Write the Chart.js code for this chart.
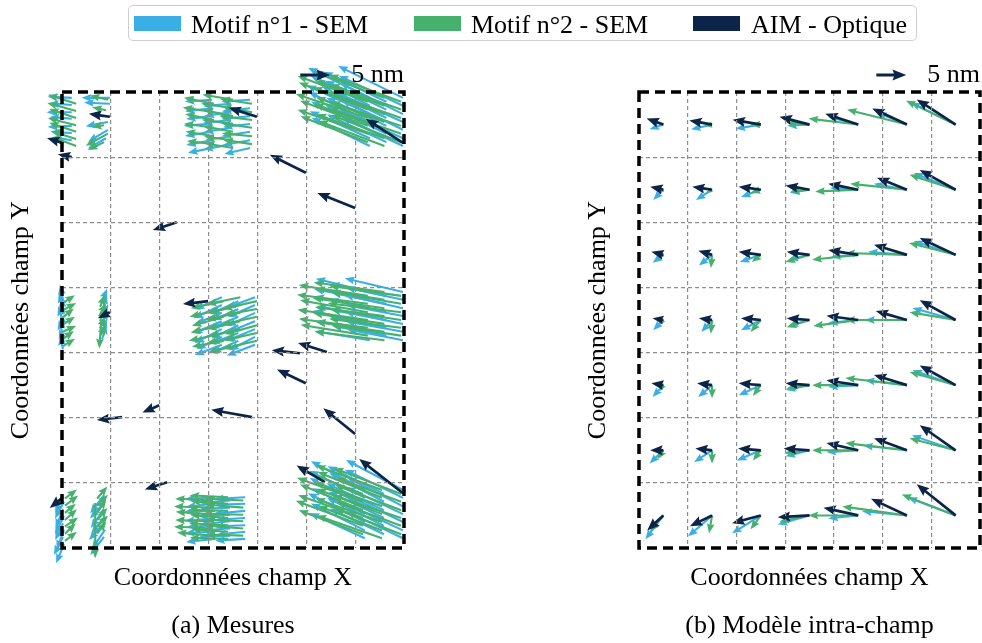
<!DOCTYPE html>
<html lang="fr">
<head>
<meta charset="utf-8">
<script src="https://cdn.jsdelivr.net/npm/chart.js@4.4.0/dist/chart.umd.min.js"></script>
<style>
  body { margin: 0; background: #fff; }
  #page { position: relative; width: 982px; height: 643px; overflow: hidden; font-family: "Liberation Serif", "Times New Roman", serif; }
  canvas { position: absolute; top: 0; }
  #legend { position: absolute; left: 128px; top: 5px; width: 787px; height: 34px; border: 1.5px solid #cfcfcf; border-radius: 5px; background: #fff; }
  .sw { position: absolute; top: 10px; width: 47px; height: 15px; }
  .lb { position: absolute; top: 1px; line-height: 35px; font-size: 26px; color: #000; white-space: nowrap; }
</style>
</head>
<body>
<div id="page">
  <canvas id="left" width="491" height="643" style="left:0"></canvas>
  <canvas id="right" width="491" height="643" style="left:491px"></canvas>
  <div id="legend">
    <span class="sw" style="left:5px;background:#3aafe6"></span><span class="lb" style="left:62px">Motif n°1 - SEM</span>
    <span class="sw" style="left:285px;background:#46b16c"></span><span class="lb" style="left:342px">Motif n°2 - SEM</span>
    <span class="sw" style="left:564px;background:#0b2447"></span><span class="lb" style="left:622px">AIM - Optique</span>
  </div>
</div>
<script>
"use strict";

// field is a 7 x 7 grid of cells, vectors are in nm (v positive = up)
const NM_TO_X = 0.1228;
const KEY_NM = 5;
const SERIF = '"Liberation Serif", "Times New Roman", serif';
const COLORS = { sem1: "#3aafe6", sem2: "#46b16c", aim: "#0b2447" };

// ---- (b) model: arrows at cell centres ----
const modelX = [0.5, 1.5, 2.5, 3.5, 4.5, 5.5, 6.5];
const modelY = [0.5, 1.5, 2.5, 3.5, 4.5, 5.5, 6.5];

const modelSem1 = [
    [[-2.3, -0.8], [-3.5, -0.8], [-4.2, -0.7], [-3.7, -0.2], [-5.0, 1.3], [-5.0, 2.0], [-7.5, 3.7]],
    [[-1.7, -1.7], [-2.7, -1.7], [-3.3, -1.2], [-3.3, -0.5], [-4.7, 0.3], [-5.5, 1.0], [-7.0, 2.8]],
    [[-1.8, -1.3], [-2.2, -1.8], [-3.5, -1.2], [-3.5, -0.8], [-4.5, -0.3], [-6.5, 0.5], [-7.0, 2.3]],
    [[-1.7, -1.7], [-1.8, -2.0], [-3.3, -1.7], [-3.5, -1.0], [-5.0, -0.5], [-7.0, 0.0], [-7.2, 2.0]],
    [[-1.8, -2.0], [-2.3, -2.0], [-3.7, -1.7], [-4.0, -0.8], [-5.0, -0.3], [-7.0, 0.8], [-7.2, 2.5]],
    [[-2.3, -2.2], [-3.0, -2.0], [-4.0, -1.7], [-4.0, -1.0], [-5.3, -0.3], [-7.3, 0.8], [-7.3, 2.5]],
    [[-3.0, -4.0], [-4.0, -3.5], [-4.8, -3.0], [-5.3, -1.5], [-5.0, -0.5], [-7.5, 0.7], [-8.0, 3.0]]
];
const modelSem2 = [
    [[-0.8, 0.0], [-1.3, -0.2], [-1.7, 0.0], [-3.8, 0.3], [-8.3, 1.0], [-10.0, 2.5], [-8.3, 4.0]],
    [[-0.8, -0.3], [-1.0, -0.5], [-1.7, -0.5], [-3.2, -0.3], [-7.2, -0.3], [-9.5, 1.0], [-7.7, 2.5]],
    [[-0.5, -0.5], [-0.2, -2.2], [-1.5, -1.2], [-4.0, -1.2], [-7.7, -0.8], [-10.3, 0.3], [-7.8, 2.0]],
    [[-0.5, -0.8], [-0.2, -2.3], [-1.7, -2.0], [-3.8, -1.2], [-7.5, -1.0], [-10.3, 0.0], [-7.7, 1.3]],
    [[-0.5, -1.0], [0.0, -2.2], [-1.3, -1.8], [-3.8, -0.5], [-7.7, 0.0], [-10.3, 1.2], [-7.7, 2.2]],
    [[-1.0, -1.5], [0.0, -2.2], [-1.3, -1.7], [-4.2, -0.5], [-7.7, 0.0], [-10.3, 1.2], [-7.7, 2.0]],
    [[-2.2, -2.7], [-0.5, -3.0], [-1.7, -2.3], [-5.0, -1.0], [-8.3, 0.0], [-10.8, 1.5], [-9.0, 3.5]]
];
const modelAim = [
    [[-2.8, 1.0], [-3.8, 0.7], [-4.7, 0.8], [-5.0, 1.3], [-5.5, 1.8], [-5.8, 2.7], [-6.5, 4.2]],
    [[-2.2, 0.5], [-3.3, 0.5], [-3.7, 0.5], [-4.0, 0.7], [-5.0, 1.0], [-5.0, 2.0], [-6.0, 3.3]],
    [[-2.0, 0.5], [-2.3, 0.7], [-3.7, 0.5], [-3.8, 0.5], [-5.0, 0.8], [-5.5, 1.7], [-6.0, 2.8]],
    [[-1.8, 0.3], [-2.2, 0.3], [-3.3, 0.3], [-3.8, 0.3], [-5.3, 0.7], [-5.2, 1.5], [-6.0, 3.3]],
    [[-2.0, 0.3], [-2.5, 0.3], [-3.7, 0.3], [-4.0, 0.3], [-5.3, 0.8], [-5.5, 1.7], [-6.0, 3.3]],
    [[-2.2, 0.0], [-2.8, 0.3], [-3.8, 0.3], [-4.3, 0.3], [-5.3, 1.2], [-5.5, 2.0], [-6.0, 4.2]],
    [[-2.7, -2.5], [-3.7, -1.8], [-4.8, -1.3], [-5.3, -0.3], [-5.8, 1.3], [-6.0, 2.8], [-6.5, 5.2]]
];

// ---- (a) measurements: [x, y, u, v] ----
const mesSem1 = [
    // top row fields
    [0.20, 0.09, -4.0, 0.2], [0.20, 0.20, -3.8, 0.3], [0.20, 0.31, -4.2, 0.0], [0.20, 0.41, -3.7, 0.3],
    [0.20, 0.52, -4.0, -0.2], [0.20, 0.63, -3.5, 0.2], [0.20, 0.74, -3.3, 0.5],
    [0.98, 0.09, -4.7, 0.0], [0.98, 0.18, -4.3, 0.2], [0.94, 0.46, -3.7, -0.7], [0.94, 0.58, -3.3, -2.0], [0.90, 0.71, -3.0, -1.7],
    [3.07, 0.12, -4.5, -0.3], [3.07, 0.25, -4.5, -0.5], [3.07, 0.37, -4.3, -0.5], [3.07, 0.49, -4.7, -0.3],
    [3.07, 0.61, -4.5, -0.7], [3.07, 0.74, -4.3, -0.8], [3.07, 0.86, -4.0, -0.8],
    [3.46, 0.18, -4.6, -0.4], [3.46, 0.31, -4.4, -0.6], [3.46, 0.43, -4.7, -0.5], [3.46, 0.55, -4.5, -0.7],
    [3.46, 0.68, -4.3, -0.6], [3.46, 0.80, -4.6, -0.9],
    [3.85, 0.12, -4.8, -0.3], [3.85, 0.25, -4.7, -0.5], [3.85, 0.37, -4.8, -0.5], [3.85, 0.49, -4.5, -0.5],
    [3.85, 0.61, -4.7, -0.7], [3.85, 0.74, -4.5, -0.8], [3.85, 0.86, -4.3, -1.0],
    [6.30, 0.09, -10.3, 5.0], [6.30, 0.21, -10.0, 5.2], [6.30, 0.34, -10.5, 4.8], [6.30, 0.46, -10.2, 5.0],
    [6.30, 0.58, -9.8, 4.7], [6.30, 0.71, -10.0, 4.5], [6.30, 0.83, -9.7, 4.7],
    [6.64, 0.15, -10.5, 5.0], [6.64, 0.27, -10.2, 4.8], [6.64, 0.40, -10.7, 5.2], [6.64, 0.52, -10.0, 4.7],
    [6.64, 0.64, -10.4, 5.0], [6.64, 0.77, -9.9, 4.6],
    [6.98, 0.09, -10.8, 5.3], [6.98, 0.21, -10.7, 5.0], [6.98, 0.34, -10.5, 5.2], [6.98, 0.46, -10.8, 4.8],
    [6.98, 0.58, -10.3, 5.0], [6.98, 0.71, -10.5, 4.7], [6.98, 0.83, -10.2, 4.8],
    // middle row fields
    [0.02, 3.19, -0.5, 2.5], [0.02, 3.30, -0.7, 2.3], [0.04, 3.41, -0.5, 2.7], [0.02, 3.52, -0.8, 2.5],
    [0.04, 3.62, -0.5, 2.3], [0.02, 3.73, -0.7, 2.5], [0.04, 3.84, -0.8, 2.2], [0.02, 3.95, -0.5, 2.3],
    [0.80, 3.25, 1.0, 2.5], [0.82, 3.36, 0.8, 2.7], [0.80, 3.47, 1.2, 2.3], [0.82, 3.58, 0.8, 2.5],
    [0.80, 3.69, 1.0, 2.3], [0.82, 3.80, 0.7, 2.5],
    [3.27, 3.15, -4.5, -2.0], [3.27, 3.27, -4.7, -2.2], [3.27, 3.39, -4.3, -1.8], [3.27, 3.52, -4.8, -2.0],
    [3.27, 3.64, -4.5, -2.3], [3.27, 3.76, -4.2, -2.0], [3.27, 3.88, -4.5, -1.7],
    [3.61, 3.21, -4.6, -2.1], [3.61, 3.33, -4.4, -1.9], [3.61, 3.45, -4.8, -2.0], [3.61, 3.58, -4.5, -2.2],
    [3.61, 3.70, -4.7, -1.8], [3.61, 3.82, -4.4, -2.0],
    [3.95, 3.15, -4.8, -1.8], [3.95, 3.27, -4.5, -2.0], [3.95, 3.39, -4.7, -2.2], [3.95, 3.52, -4.5, -1.8],
    [3.95, 3.64, -4.8, -2.0], [3.95, 3.76, -4.3, -2.2], [3.95, 3.88, -4.7, -1.8],
    [6.30, 3.07, -9.0, 2.2], [6.30, 3.19, -9.3, 1.8], [6.30, 3.32, -9.2, 2.0], [6.30, 3.44, -8.8, 1.7],
    [6.30, 3.56, -9.5, 2.2], [6.30, 3.68, -9.0, 1.8], [6.30, 3.81, -9.2, 1.5],
    [6.64, 3.13, -9.4, 2.0], [6.64, 3.25, -9.1, 1.8], [6.64, 3.38, -9.6, 2.1], [6.64, 3.50, -9.2, 1.7],
    [6.64, 3.62, -9.5, 1.9], [6.64, 3.74, -9.0, 1.6],
    [6.98, 3.07, -9.7, 2.3], [6.98, 3.19, -9.5, 2.0], [6.98, 3.32, -9.8, 2.2], [6.98, 3.44, -9.3, 1.8],
    [6.98, 3.56, -9.7, 2.0], [6.98, 3.68, -9.5, 1.7], [6.98, 3.81, -9.3, 1.8],
    // bottom row fields
    [0.02, 6.19, -1.3, -3.0], [0.04, 6.29, -1.5, -2.8], [0.02, 6.40, -1.2, -3.2], [0.04, 6.51, -1.5, -3.0],
    [0.02, 6.62, -1.3, -2.8], [0.04, 6.72, -1.2, -3.3], [0.02, 6.83, -1.5, -3.0], [0.04, 6.94, -1.3, -3.2],
    [0.86, 6.19, -2.3, -3.0], [0.88, 6.29, -2.5, -2.8], [0.86, 6.40, -2.2, -3.2], [0.88, 6.51, -2.3, -3.0],
    [0.86, 6.62, -2.5, -2.8], [0.88, 6.72, -2.2, -3.2], [0.86, 6.83, -2.3, -3.0],
    [3.13, 6.22, -5.0, -0.3], [3.13, 6.32, -4.8, -0.5], [3.13, 6.43, -5.2, -0.2], [3.13, 6.54, -5.0, -0.5],
    [3.13, 6.65, -4.7, -0.3], [3.13, 6.75, -5.0, -0.2], [3.13, 6.86, -4.8, -0.5],
    [3.44, 6.27, -5.1, -0.4], [3.44, 6.38, -4.9, -0.2], [3.44, 6.49, -5.2, -0.3], [3.44, 6.59, -5.0, -0.5],
    [3.44, 6.70, -4.8, -0.3], [3.44, 6.81, -5.1, -0.2],
    [3.75, 6.22, -5.2, -0.3], [3.75, 6.32, -5.0, -0.2], [3.75, 6.43, -5.3, -0.5], [3.75, 6.54, -5.0, -0.3],
    [3.75, 6.65, -5.2, -0.2], [3.75, 6.75, -4.8, -0.5], [3.75, 6.86, -5.0, -0.3],
    [6.20, 6.11, -9.0, 4.8], [6.20, 6.23, -9.3, 4.5], [6.20, 6.36, -9.2, 4.7], [6.20, 6.48, -8.8, 4.3],
    [6.20, 6.60, -9.5, 4.8], [6.20, 6.73, -9.0, 4.5], [6.20, 6.85, -9.2, 4.2],
    [6.59, 6.17, -9.4, 4.6], [6.59, 6.29, -9.1, 4.8], [6.59, 6.42, -9.6, 4.5], [6.59, 6.54, -9.2, 4.4],
    [6.59, 6.66, -9.5, 4.7], [6.59, 6.79, -9.0, 4.3],
    [6.98, 6.11, -9.5, 5.0], [6.98, 6.23, -9.7, 4.7], [6.98, 6.36, -9.3, 4.8], [6.98, 6.48, -9.5, 4.5],
    [6.98, 6.60, -9.8, 4.7], [6.98, 6.73, -9.3, 4.3], [6.98, 6.85, -9.5, 4.5]
];
const mesSem2 = [
    [0.29, 0.18, -4.7, 1.5], [0.29, 0.29, -4.8, 1.3], [0.29, 0.40, -4.5, 1.5], [0.29, 0.51, -4.7, 1.2],
    [0.29, 0.61, -4.5, 1.5], [0.29, 0.72, -4.2, 1.3], [0.29, 0.83, -4.0, 1.5],
    [0.94, 0.12, -3.0, 0.7], [0.90, 0.28, -2.3, 0.5], [0.86, 0.51, -2.0, -0.3], [0.94, 0.64, -3.7, -2.0], [0.86, 0.77, -2.7, -1.3],
    [3.11, 0.18, -5.0, 1.0], [3.11, 0.31, -5.2, 0.8], [3.11, 0.43, -4.8, 1.0], [3.11, 0.55, -5.0, 0.7],
    [3.11, 0.68, -4.7, 0.8], [3.11, 0.80, -4.5, 0.5],
    [3.50, 0.12, -5.1, 0.9], [3.50, 0.25, -5.3, 0.8], [3.50, 0.37, -4.9, 1.0], [3.50, 0.49, -5.2, 0.7],
    [3.50, 0.61, -5.0, 0.9], [3.50, 0.74, -4.8, 0.6], [3.50, 0.86, -4.7, 0.8],
    [3.89, 0.18, -5.3, 0.8], [3.89, 0.31, -5.0, 1.0], [3.89, 0.43, -5.5, 0.7], [3.89, 0.55, -5.2, 0.8],
    [3.89, 0.68, -5.0, 0.5], [3.89, 0.80, -4.8, 0.7],
    [6.26, 0.15, -11.7, 4.3], [6.26, 0.27, -11.5, 4.5], [6.26, 0.40, -12.0, 4.0], [6.26, 0.52, -11.3, 4.2],
    [6.26, 0.64, -11.7, 4.0], [6.26, 0.77, -11.2, 4.3],
    [6.60, 0.09, -11.8, 4.4], [6.60, 0.21, -11.5, 4.2], [6.60, 0.34, -11.9, 4.5], [6.60, 0.46, -11.4, 4.1],
    [6.60, 0.58, -11.7, 4.3], [6.60, 0.71, -11.3, 4.0], [6.60, 0.83, -11.0, 4.2],
    [6.94, 0.15, -12.0, 4.5], [6.94, 0.27, -11.8, 4.2], [6.94, 0.40, -12.2, 4.3], [6.94, 0.52, -11.7, 4.0],
    [6.94, 0.64, -12.0, 4.2], [6.94, 0.77, -11.5, 4.5],
    [0.02, 3.24, 2.0, 1.3], [0.02, 3.35, 2.2, 1.2], [0.02, 3.46, 1.8, 1.5], [0.02, 3.57, 2.0, 1.3],
    [0.02, 3.68, 2.2, 1.0], [0.02, 3.79, 1.8, 1.3], [0.02, 3.90, 2.0, 1.2],
    [0.78, 3.30, 0.8, 2.0], [0.78, 3.41, 1.0, 1.8], [0.78, 3.52, 0.7, 2.2], [0.78, 3.63, 0.8, 2.0],
    [0.78, 3.74, 1.0, 1.7], [0.80, 3.55, -0.3, -4.2],
    [3.31, 3.21, -5.5, -1.2], [3.31, 3.33, -5.7, -1.3], [3.31, 3.45, -5.3, -1.5], [3.31, 3.58, -5.5, -1.2],
    [3.31, 3.70, -5.8, -1.3], [3.31, 3.82, -5.3, -1.0],
    [3.65, 3.15, -5.6, -1.2], [3.65, 3.27, -5.4, -1.4], [3.65, 3.39, -5.7, -1.1], [3.65, 3.52, -5.5, -1.3],
    [3.65, 3.64, -5.3, -1.2], [3.65, 3.76, -5.6, -1.0], [3.65, 3.88, -5.4, -1.3],
    [3.99, 3.21, -5.7, -1.3], [3.99, 3.33, -5.5, -1.0], [3.99, 3.45, -5.8, -1.3], [3.99, 3.58, -5.3, -1.5],
    [3.99, 3.70, -5.5, -1.2], [3.99, 3.82, -5.7, -1.3],
    [6.26, 3.13, -11.5, 1.8], [6.26, 3.25, -11.8, 1.5], [6.26, 3.38, -11.3, 2.0], [6.26, 3.50, -11.7, 1.7],
    [6.26, 3.62, -11.5, 1.5], [6.26, 3.74, -11.2, 1.8],
    [6.60, 3.07, -11.8, 1.6], [6.60, 3.19, -11.5, 1.9], [6.60, 3.32, -12.0, 1.7], [6.60, 3.44, -11.6, 1.5],
    [6.60, 3.56, -11.9, 1.8], [6.60, 3.68, -11.4, 1.6], [6.60, 3.81, -11.6, 1.4],
    [6.94, 3.13, -12.0, 1.7], [6.94, 3.25, -11.7, 2.0], [6.94, 3.38, -12.2, 1.5], [6.94, 3.50, -11.8, 1.8],
    [6.94, 3.62, -12.0, 1.5], [6.94, 3.74, -11.5, 1.7],
    [0.06, 6.24, 2.0, 1.5], [0.06, 6.35, 2.2, 1.7], [0.06, 6.46, 1.8, 1.5], [0.06, 6.57, 2.0, 1.8],
    [0.06, 6.67, 2.2, 1.5], [0.06, 6.78, 1.8, 1.7], [0.06, 6.89, 2.0, 1.5],
    [0.72, 6.24, 1.7, 2.0], [0.72, 6.35, 1.8, 1.8], [0.72, 6.46, 1.5, 2.2], [0.72, 6.57, 1.7, 2.0],
    [0.72, 6.67, 1.8, 1.8], [0.72, 6.78, 1.5, 2.0], [0.68, 6.31, 0.0, -9.2],
    [3.09, 6.27, -6.3, 0.3], [3.09, 6.38, -6.5, 0.2], [3.09, 6.49, -6.2, 0.5], [3.09, 6.59, -6.3, 0.2],
    [3.09, 6.70, -6.5, 0.3], [3.09, 6.81, -6.0, 0.5],
    [3.40, 6.22, -6.4, 0.3], [3.40, 6.32, -6.2, 0.4], [3.40, 6.43, -6.6, 0.2], [3.40, 6.54, -6.3, 0.5],
    [3.40, 6.65, -6.5, 0.3], [3.40, 6.75, -6.1, 0.4], [3.40, 6.86, -6.4, 0.2],
    [3.71, 6.27, -6.5, 0.3], [3.71, 6.38, -6.3, 0.5], [3.71, 6.49, -6.7, 0.2], [3.71, 6.59, -6.3, 0.3],
    [3.71, 6.70, -6.5, 0.5], [3.71, 6.81, -6.2, 0.2],
    [6.16, 6.17, -10.8, 4.2], [6.16, 6.29, -11.0, 4.0], [6.16, 6.42, -10.5, 4.3], [6.16, 6.54, -10.8, 3.8],
    [6.16, 6.66, -11.2, 4.2], [6.16, 6.79, -10.7, 4.0],
    [6.55, 6.11, -11.0, 4.1], [6.55, 6.23, -10.7, 4.3], [6.55, 6.36, -11.2, 4.0], [6.55, 6.48, -10.9, 4.2],
    [6.55, 6.60, -11.1, 3.9], [6.55, 6.73, -10.6, 4.1], [6.55, 6.85, -10.9, 3.8],
    [6.94, 6.17, -11.2, 4.3], [6.94, 6.29, -10.8, 4.0], [6.94, 6.42, -11.0, 4.2], [6.94, 6.54, -11.3, 3.8],
    [6.94, 6.66, -10.8, 4.0], [6.94, 6.79, -11.0, 4.3]
];
const mesAim = [
    [0.00, 0.78, -2.5, 0.8], [0.20, 1.00, -2.3, 0.5], [0.98, 0.38, -3.5, 0.5], [3.99, 0.38, -4.7, 1.5],
    [6.98, 0.78, -6.2, 4.0], [4.99, 1.24, -6.0, 3.0], [6.00, 1.78, -6.3, 2.5], [2.35, 2.00, -4.0, -1.3],
    [2.99, 3.21, -4.2, -0.5], [0.98, 3.38, -2.0, -1.0], [5.42, 3.99, -4.8, 1.5], [4.87, 4.01, -4.7, 0.5],
    [4.99, 4.47, -4.8, 2.3], [3.89, 4.99, -6.8, 1.2], [6.00, 5.25, -5.3, 4.3], [1.99, 4.81, -2.8, -1.2],
    [1.23, 4.99, -4.2, -0.5], [2.15, 5.99, -3.7, -1.2], [0.02, 6.22, -2.2, -1.8], [5.38, 5.99, -4.7, 2.8],
    [6.98, 6.16, -7.3, 5.7]
];

function gridPoints(vectors) {
    const pts = [];
    modelY.forEach((y, r) => {
        modelX.forEach((x, c) => {
            pts.push({ x: x, y: y, u: vectors[r][c][0], v: vectors[r][c][1] });
        });
    });
    return pts;
}

function listPoints(list) {
    return list.map((a) => ({ x: a[0], y: a[1], u: a[2], v: a[3] }));
}

function drawArrow(ctx, x0, y0, dx, dy, w, color) {
    const len = Math.hypot(dx, dy);
    if (len < 0.5) return;
    let hl = 4.6 * w, hal = 4.1 * w, hw = 3.7 * w, sw = w;
    if (len < hl) {
        const k = len / hl;
        hl *= k; hal *= k; hw *= k; sw *= k;
    }
    ctx.save();
    ctx.translate(x0, y0);
    ctx.rotate(Math.atan2(dy, dx));
    ctx.beginPath();
    ctx.moveTo(0, -sw / 2);
    ctx.lineTo(len - hal, -sw / 2);
    ctx.lineTo(len - hl, -hw / 2);
    ctx.lineTo(len, 0);
    ctx.lineTo(len - hl, hw / 2);
    ctx.lineTo(len - hal, sw / 2);
    ctx.lineTo(0, sw / 2);
    ctx.closePath();
    ctx.fillStyle = color;
    ctx.fill();
    ctx.restore();
}

const quiverPlugin = {
    id: "quiver",
    afterDatasetsDraw(chart) {
        const ctx = chart.ctx;
        const xs = chart.scales.x;
        const pxPerNm = xs.getPixelForValue(NM_TO_X) - xs.getPixelForValue(0);
        chart.data.datasets.forEach((ds, i) => {
            const meta = chart.getDatasetMeta(i);
            meta.data.forEach((el, j) => {
                const p = ds.data[j];
                drawArrow(ctx, el.x, el.y, p.u * pxPerNm, -p.v * pxPerNm, ds.shaftWidth, ds.backgroundColor);
            });
        });
    },
    afterDraw(chart, args, opts) {
        const ctx = chart.ctx;
        const a = chart.chartArea;
        const xs = chart.scales.x;
        const pxPerNm = xs.getPixelForValue(NM_TO_X) - xs.getPixelForValue(0);

        ctx.save();
        ctx.setLineDash([10, 6]);
        ctx.lineWidth = 3.5;
        ctx.strokeStyle = "#000";
        ctx.strokeRect(a.left, a.top, a.right - a.left, a.bottom - a.top);
        ctx.restore();

        // quiver key
        const ky = a.top - 17;
        ctx.save();
        ctx.font = "26px " + SERIF;
        ctx.fillStyle = "#000";
        ctx.textAlign = "right";
        ctx.textBaseline = "middle";
        ctx.fillText(opts.label, a.right, ky);
        const tw = ctx.measureText(opts.label).width;
        ctx.restore();
        const kx = a.right - tw - 21 - KEY_NM * pxPerNm;
        drawArrow(ctx, kx, ky, KEY_NM * pxPerNm, 0, 3, COLORS.aim);
    }
};

function makeChart(id, sets, caption, padLeft, padRight) {
    const font = { family: SERIF, size: 26 };
    const gridColor = (c) => (c.tick && c.tick.value > 0 && c.tick.value < 7) ? "#8e8e8e" : "rgba(0,0,0,0)";
    return new Chart(document.getElementById(id), {
        type: "scatter",
        data: {
            datasets: [
                { label: "Motif n°1 - SEM", data: sets[0], backgroundColor: COLORS.sem1, shaftWidth: 2.1, pointRadius: 0 },
                { label: "Motif n°2 - SEM", data: sets[1], backgroundColor: COLORS.sem2, shaftWidth: 2.1, pointRadius: 0 },
                { label: "AIM - Optique", data: sets[2], backgroundColor: COLORS.aim, shaftWidth: 2.7, pointRadius: 0 }
            ]
        },
        options: {
            responsive: false,
            animation: false,
            events: [],
            layout: { padding: { top: 92, left: padLeft, right: padRight, bottom: 0 } },
            scales: {
                x: {
                    type: "linear", min: 0, max: 7,
                    ticks: { display: false, stepSize: 1 },
                    grid: { color: gridColor, lineWidth: 1.2, drawTicks: false, z: 1 },
                    border: { display: false, dash: [4, 3] },
                    title: { display: true, text: "Coordonnées champ X", font: font, color: "#000", padding: { top: 0, bottom: 4 } },
                    afterFit: (s) => { s.height = 49.6; }
                },
                y: {
                    type: "linear", min: 0, max: 7, reverse: true,
                    ticks: { display: false, stepSize: 1 },
                    grid: { color: gridColor, lineWidth: 1.2, drawTicks: false, z: 1 },
                    border: { display: false, dash: [4, 3] },
                    title: { display: true, text: "Coordonnées champ Y", font: font, color: "#000", padding: { top: 5.4, bottom: 0 } },
                    afterFit: (s) => { s.width = 62; }
                }
            },
            plugins: {
                legend: { display: false },
                tooltip: { enabled: false },
                title: {
                    display: true, text: caption, position: "bottom", fullSize: false,
                    font: { family: SERIF, size: 26, weight: "normal" }, color: "#000",
                    padding: { top: 12.8, bottom: 1.4 }
                },
                quiver: { label: "5 nm" }
            }
        },
        plugins: [quiverPlugin]
    });
}

makeChart("left", [listPoints(mesSem1), listPoints(mesSem2), listPoints(mesAim)], "(a) Mesures", 0, 87);
makeChart("right", [gridPoints(modelSem1), gridPoints(modelSem2), gridPoints(modelAim)], "(b) Modèle intra-champ", 86, 2);
</script>
</body>
</html>
